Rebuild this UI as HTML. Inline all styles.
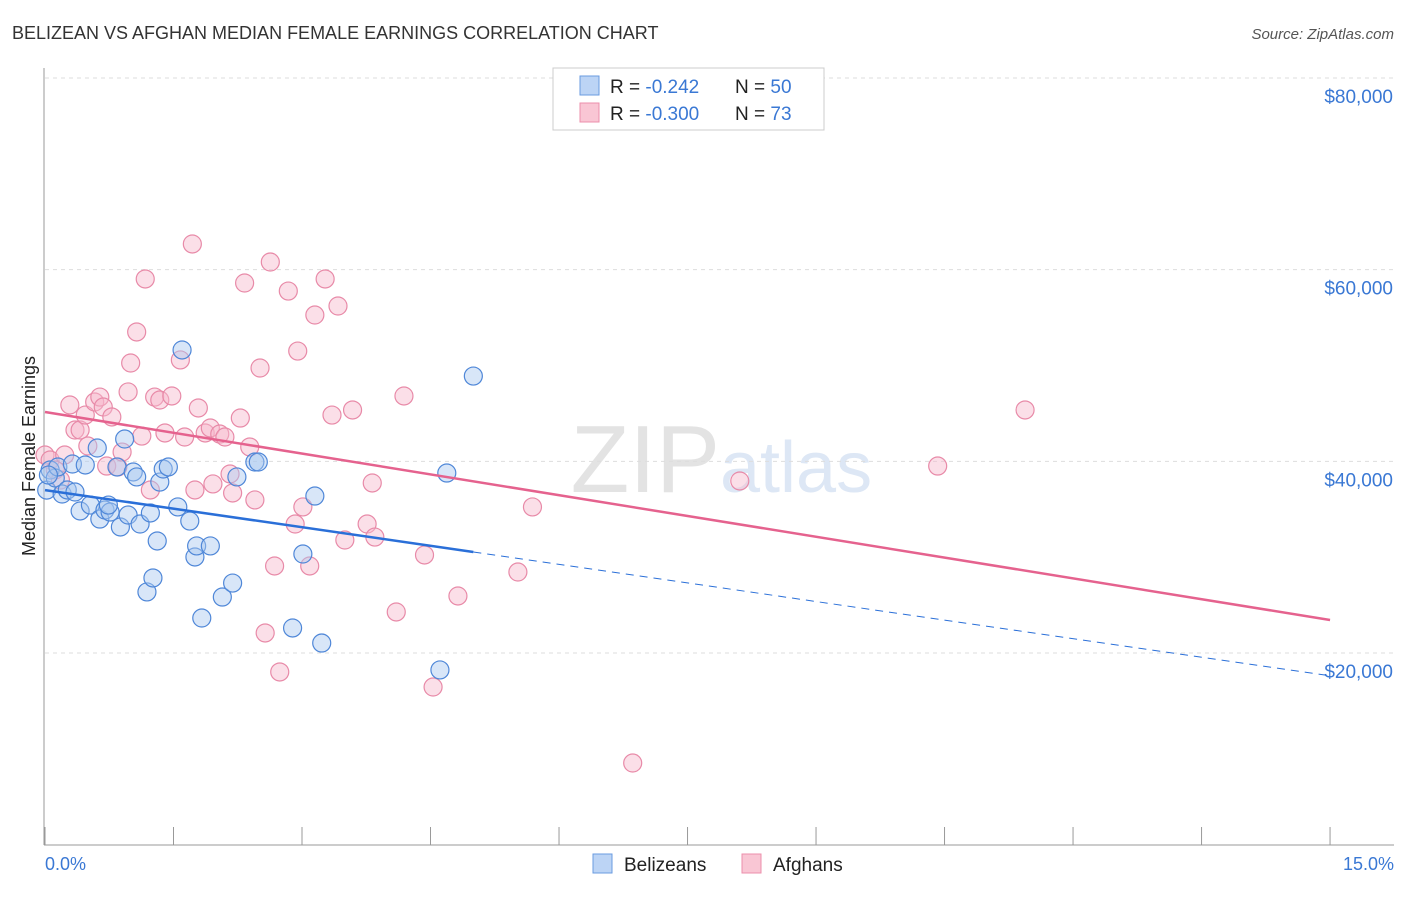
<!DOCTYPE html>
<html><head><meta charset="utf-8"><style>
body{margin:0;background:#fff;font-family:"Liberation Sans",sans-serif}
svg text{font-family:"Liberation Sans",sans-serif}
</style></head><body>
<svg id="c" width="1406" height="892">
<text x="12" y="39" font-size="18" fill="#333">BELIZEAN VS AFGHAN MEDIAN FEMALE EARNINGS CORRELATION CHART</text>
<text x="1394" y="39" font-size="15" fill="#555" font-style="italic" text-anchor="end">Source: ZipAtlas.com</text>
<text x="720" y="492" font-size="96" fill="#e3e3e3" font-family="Liberation Serif" text-anchor="end">ZIP</text>
<text x="720" y="492" font-size="72" fill="#dde7f5">atlas</text>
<g id="grid"></g><g id="axes"></g><g id="pts"></g><g id="lines"></g>
<text transform="translate(35,456) rotate(-90)" font-size="18" fill="#222" text-anchor="middle">Median Female Earnings</text>
<text x="45" y="870" font-size="18" fill="#3a78d4">0.0%</text>
<text x="1394" y="870" font-size="18" fill="#3a78d4" text-anchor="end">15.0%</text>
<g>
<rect x="553" y="68" width="271" height="62" fill="#fff" stroke="#ccc"/>
<rect x="580" y="76" width="19" height="19" fill="#bcd4f5" stroke="#6a9be0"/>
<rect x="580" y="103" width="19" height="19" fill="#f9c6d4" stroke="#ec8fab"/>
<text x="610" y="93" font-size="19" fill="#222">R = <tspan fill="#3a78d4">-0.242</tspan><tspan x="735">N = </tspan><tspan fill="#3a78d4">50</tspan></text>
<text x="610" y="120" font-size="19" fill="#222">R = <tspan fill="#3a78d4">-0.300</tspan><tspan x="735">N = </tspan><tspan fill="#3a78d4"> 73</tspan></text>
</g>
<g>
<rect x="593" y="854" width="19" height="19" fill="#bcd4f5" stroke="#6a9be0"/>
<text x="624" y="871" font-size="19" fill="#222">Belizeans</text>
<rect x="742" y="854" width="19" height="19" fill="#f9c6d4" stroke="#ec8fab"/>
<text x="773" y="871" font-size="19" fill="#222">Afghans</text>
</g>
</svg>
<script>
const yTicks=[20000,40000,60000,80000];
const yTickLabels=["$20,000","$40,000","$60,000","$80,000"];
const xTicks=[0,1.5,3,4.5,6,7.5,9,10.5,12,13.5,15];
const blueX=[0.02,0.06,0.12,0.15,0.20,0.26,0.32,0.35,0.41,0.47,0.53,0.61,0.64,0.70,0.76,0.74,0.84,0.88,0.93,0.97,1.03,1.07,1.11,1.19,1.23,1.26,1.31,1.34,1.38,1.44,1.55,1.60,1.69,1.75,1.77,1.83,1.93,2.07,2.19,2.24,2.45,2.49,2.89,3.01,3.15,3.23,4.61,4.69,5.00,0.04];
const blueY=[37000,39100,38260,39410,36590,37010,39720,36800,34820,39620,35440,41390,33980,34920,34710,35440,39410,33150,42330,34400,38890,38370,33460,26370,34610,27830,31690,37840,39200,39410,35240,51620,33770,30020,31170,23650,31170,25840,27300,38370,39930,39930,22610,30330,36380,21040,18230,38780,48900,38570];
const pinkX=[0.00,0.06,0.12,0.18,0.23,0.29,0.35,0.41,0.47,0.50,0.58,0.64,0.68,0.72,0.78,0.85,0.90,0.97,1.00,1.07,1.13,1.17,1.23,1.28,1.34,1.40,1.48,1.58,1.63,1.72,1.75,1.79,1.87,1.93,1.96,2.04,2.10,2.16,2.19,2.28,2.33,2.39,2.45,2.51,2.57,2.63,2.68,2.74,2.84,2.95,2.92,3.01,3.09,3.15,3.27,3.35,3.42,3.50,3.59,3.76,3.82,3.85,4.10,4.19,4.43,4.53,4.82,5.52,5.69,6.86,8.11,10.42,11.44];
const pinkY=[40660,40140,39100,38050,40660,45880,43270,43270,44830,41600,46190,46710,45670,39510,44630,39410,40970,47240,50260,53500,42640,59030,37010,46710,46400,42960,46820,50580,42540,62680,37010,45570,42960,43480,37640,42850,42540,38680,36700,44520,58610,41500,35970,49740,22090,60800,29080,18020,57770,51510,33460,35240,29080,55270,59030,44830,56210,31790,45360,33460,37740,32100,24280,46820,30230,16450,25950,28450,35240,8520,37950,39510,45360];
const blueTrend=[37000,-1292];
const pinkTrend=[45150,-1447];
const NS="http://www.w3.org/2000/svg";
const X=v=>45+v*85.67;
const Y=v=>653-(v-20000)*0.009583;
function mk(tag,attrs,parent){const e=document.createElementNS(NS,tag);for(const k in attrs)e.setAttribute(k,attrs[k]);document.getElementById(parent).appendChild(e);return e;}
yTicks.forEach((t,i)=>{
 const l=mk('line',{x1:45,x2:1394,y1:Y(t),y2:Y(t),stroke:'#ddd','stroke-dasharray':'4,4'},'grid');
 
 
 const tx=mk('text',{x:1393,y:Y(t)+25,'font-size':19,fill:'#3a78d4','text-anchor':'end'},'grid');
 tx.textContent=yTickLabels[i];
 
 
});
const ax=mk('line',{x1:44,x2:44,y1:68,y2:845,stroke:'#999'},'axes');


const bx=mk('line',{x1:44,x2:1394,y1:845,y2:845,stroke:'#999'},'axes');


xTicks.forEach(t=>{
 const l=mk('line',{x1:X(t),x2:X(t),y1:827,y2:845,stroke:'#999'},'axes');
 
 
});
function pts(xs,ys,fill,stroke,name){xs.forEach((x,i)=>{
 const c=mk('circle',{cx:X(x),cy:Y(ys[i]),r:9,fill:fill,'fill-opacity':0.45,stroke:stroke,'stroke-width':1.2},'pts');
 
 
});}
pts(pinkX,pinkY,'#f6b8cb','#e88aa8','afghan-point');
pts(blueX,blueY,'#a9c8f0','#4f87d8','belizean-point');
const bxEnd=5.0;
const b1=mk('line',{x1:X(0),y1:Y(blueTrend[0]),x2:X(bxEnd),y2:Y(blueTrend[0]+blueTrend[1]*bxEnd),stroke:'#2a6fd8','stroke-width':2.5},'lines');


const b2=mk('line',{x1:X(bxEnd),y1:Y(blueTrend[0]+blueTrend[1]*bxEnd),x2:X(15),y2:Y(blueTrend[0]+blueTrend[1]*15),stroke:'#2a6fd8','stroke-width':1,'stroke-dasharray':'8,6'},'lines');


const p1=mk('line',{x1:X(0),y1:Y(pinkTrend[0]),x2:X(15),y2:Y(pinkTrend[0]+pinkTrend[1]*15),stroke:'#e5628e','stroke-width':2.5},'lines');


</script>
</body></html>
